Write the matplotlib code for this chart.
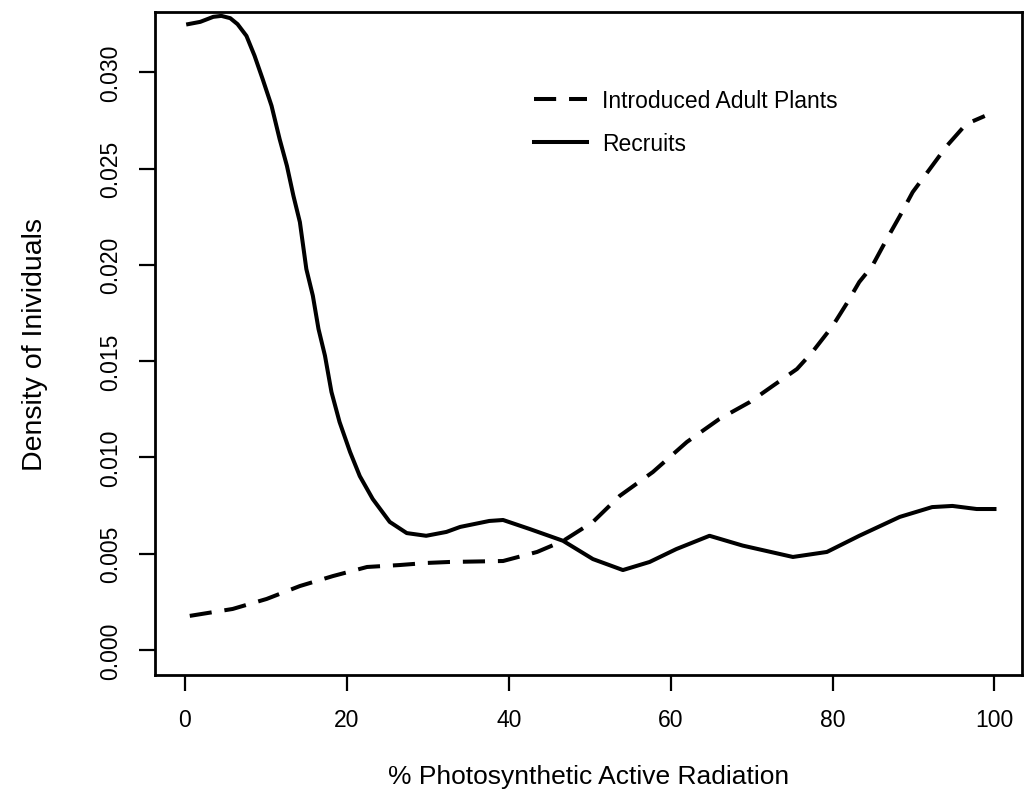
import matplotlib
matplotlib.use("Agg")
import matplotlib.pyplot as plt

recruits_x = [0.4, 1.9, 3.5, 4.5, 5.6, 6.5, 7.6, 8.6, 9.6, 10.7, 11.7, 12.6,
              13.4, 14.2, 15.0, 15.8, 16.5, 17.3, 18.1, 19.1, 20.4, 21.6, 23.2,
              25.3, 27.4, 29.8, 32.3, 34.0, 37.6, 39.3, 42.6, 46.7, 50.4, 54.1,
              57.4, 60.7, 64.8, 68.9, 75.1, 79.3, 83.3, 88.3, 92.3, 94.8, 97.8,
              100.0]
recruits_y = [0.03250, 0.03262, 0.03288, 0.03293, 0.03281, 0.03250, 0.03189,
              0.03086, 0.02965, 0.02826, 0.02653, 0.02514, 0.02359, 0.02222,
              0.01978, 0.01840, 0.01667, 0.01528, 0.01340, 0.01184, 0.01028,
              0.00903, 0.00784, 0.00665, 0.00607, 0.00593, 0.00613, 0.00639,
              0.00670, 0.00675, 0.00628, 0.00567, 0.00472, 0.00415, 0.00457,
              0.00524, 0.00593, 0.00542, 0.00483, 0.00509, 0.00593, 0.00691,
              0.00742, 0.00748, 0.00732, 0.00732]

adults_x = [0.6, 5.9, 10.1, 14.2, 18.3, 22.5, 26.5, 29.9, 32.7, 39.3, 43.5, 46.7,
            50.4, 53.7, 57.8, 62.0, 66.0, 69.8, 72.6, 75.6, 77.5, 80.0, 81.7,
            83.3, 84.9, 86.7, 88.3, 89.9, 92.0, 94.1, 96.5, 98.8]
adults_y = [0.00177, 0.00213, 0.00265, 0.00332, 0.00384, 0.00431, 0.00441,
            0.00452, 0.00457, 0.00462, 0.00509, 0.00566, 0.00665, 0.00800,
            0.00924, 0.01080, 0.01199, 0.01288, 0.01371, 0.01459, 0.01547,
            0.01682, 0.01796, 0.01911, 0.01994, 0.02134, 0.02253, 0.02378,
            0.02497, 0.02617, 0.02731, 0.02773]

x_ticks = [0, 20, 40, 60, 80, 100]
y_ticks = [0.000, 0.005, 0.010, 0.015, 0.020, 0.025, 0.030]

plt.rcParams['font.family'] = ['Liberation Sans', 'DejaVu Sans']

fig = plt.figure(figsize=(10.29, 8.04), dpi=100)
ax = fig.add_axes([0.1506, 0.1592, 0.8426, 0.8246])

ax.plot(adults_x, adults_y, color='black', lw=2.9, dashes=[5.5, 3.2],
        label='Introduced Adult Plants', dash_capstyle='butt')
ax.plot(recruits_x, recruits_y, color='black', lw=2.9, label='Recruits',
        solid_joinstyle='round')

ax.set_xlim(-3.7, 103.4)
ax.set_ylim(-0.0013, 0.03313)
ax.set_xticks(x_ticks)
ax.set_yticks(y_ticks)
ax.set_yticklabels(['%.3f' % v for v in y_ticks], rotation=90, va='center')

for s in ax.spines.values():
    s.set_linewidth(2)
ax.tick_params(length=11.5, width=1.6, labelsize=16.5, pad=12)

ax.set_xlabel('% Photosynthetic Active Radiation', fontsize=19, labelpad=24)
ax.set_ylabel('Density of Inividuals', fontsize=20.5, labelpad=37)

leg = ax.legend(loc='upper left', bbox_to_anchor=(0.4245, 0.901), frameon=False,
                handlelength=2.3, handletextpad=0.65, labelspacing=0.85,
                borderpad=0, prop={'size': 16.5})

fig.savefig('out.png', dpi=100)
